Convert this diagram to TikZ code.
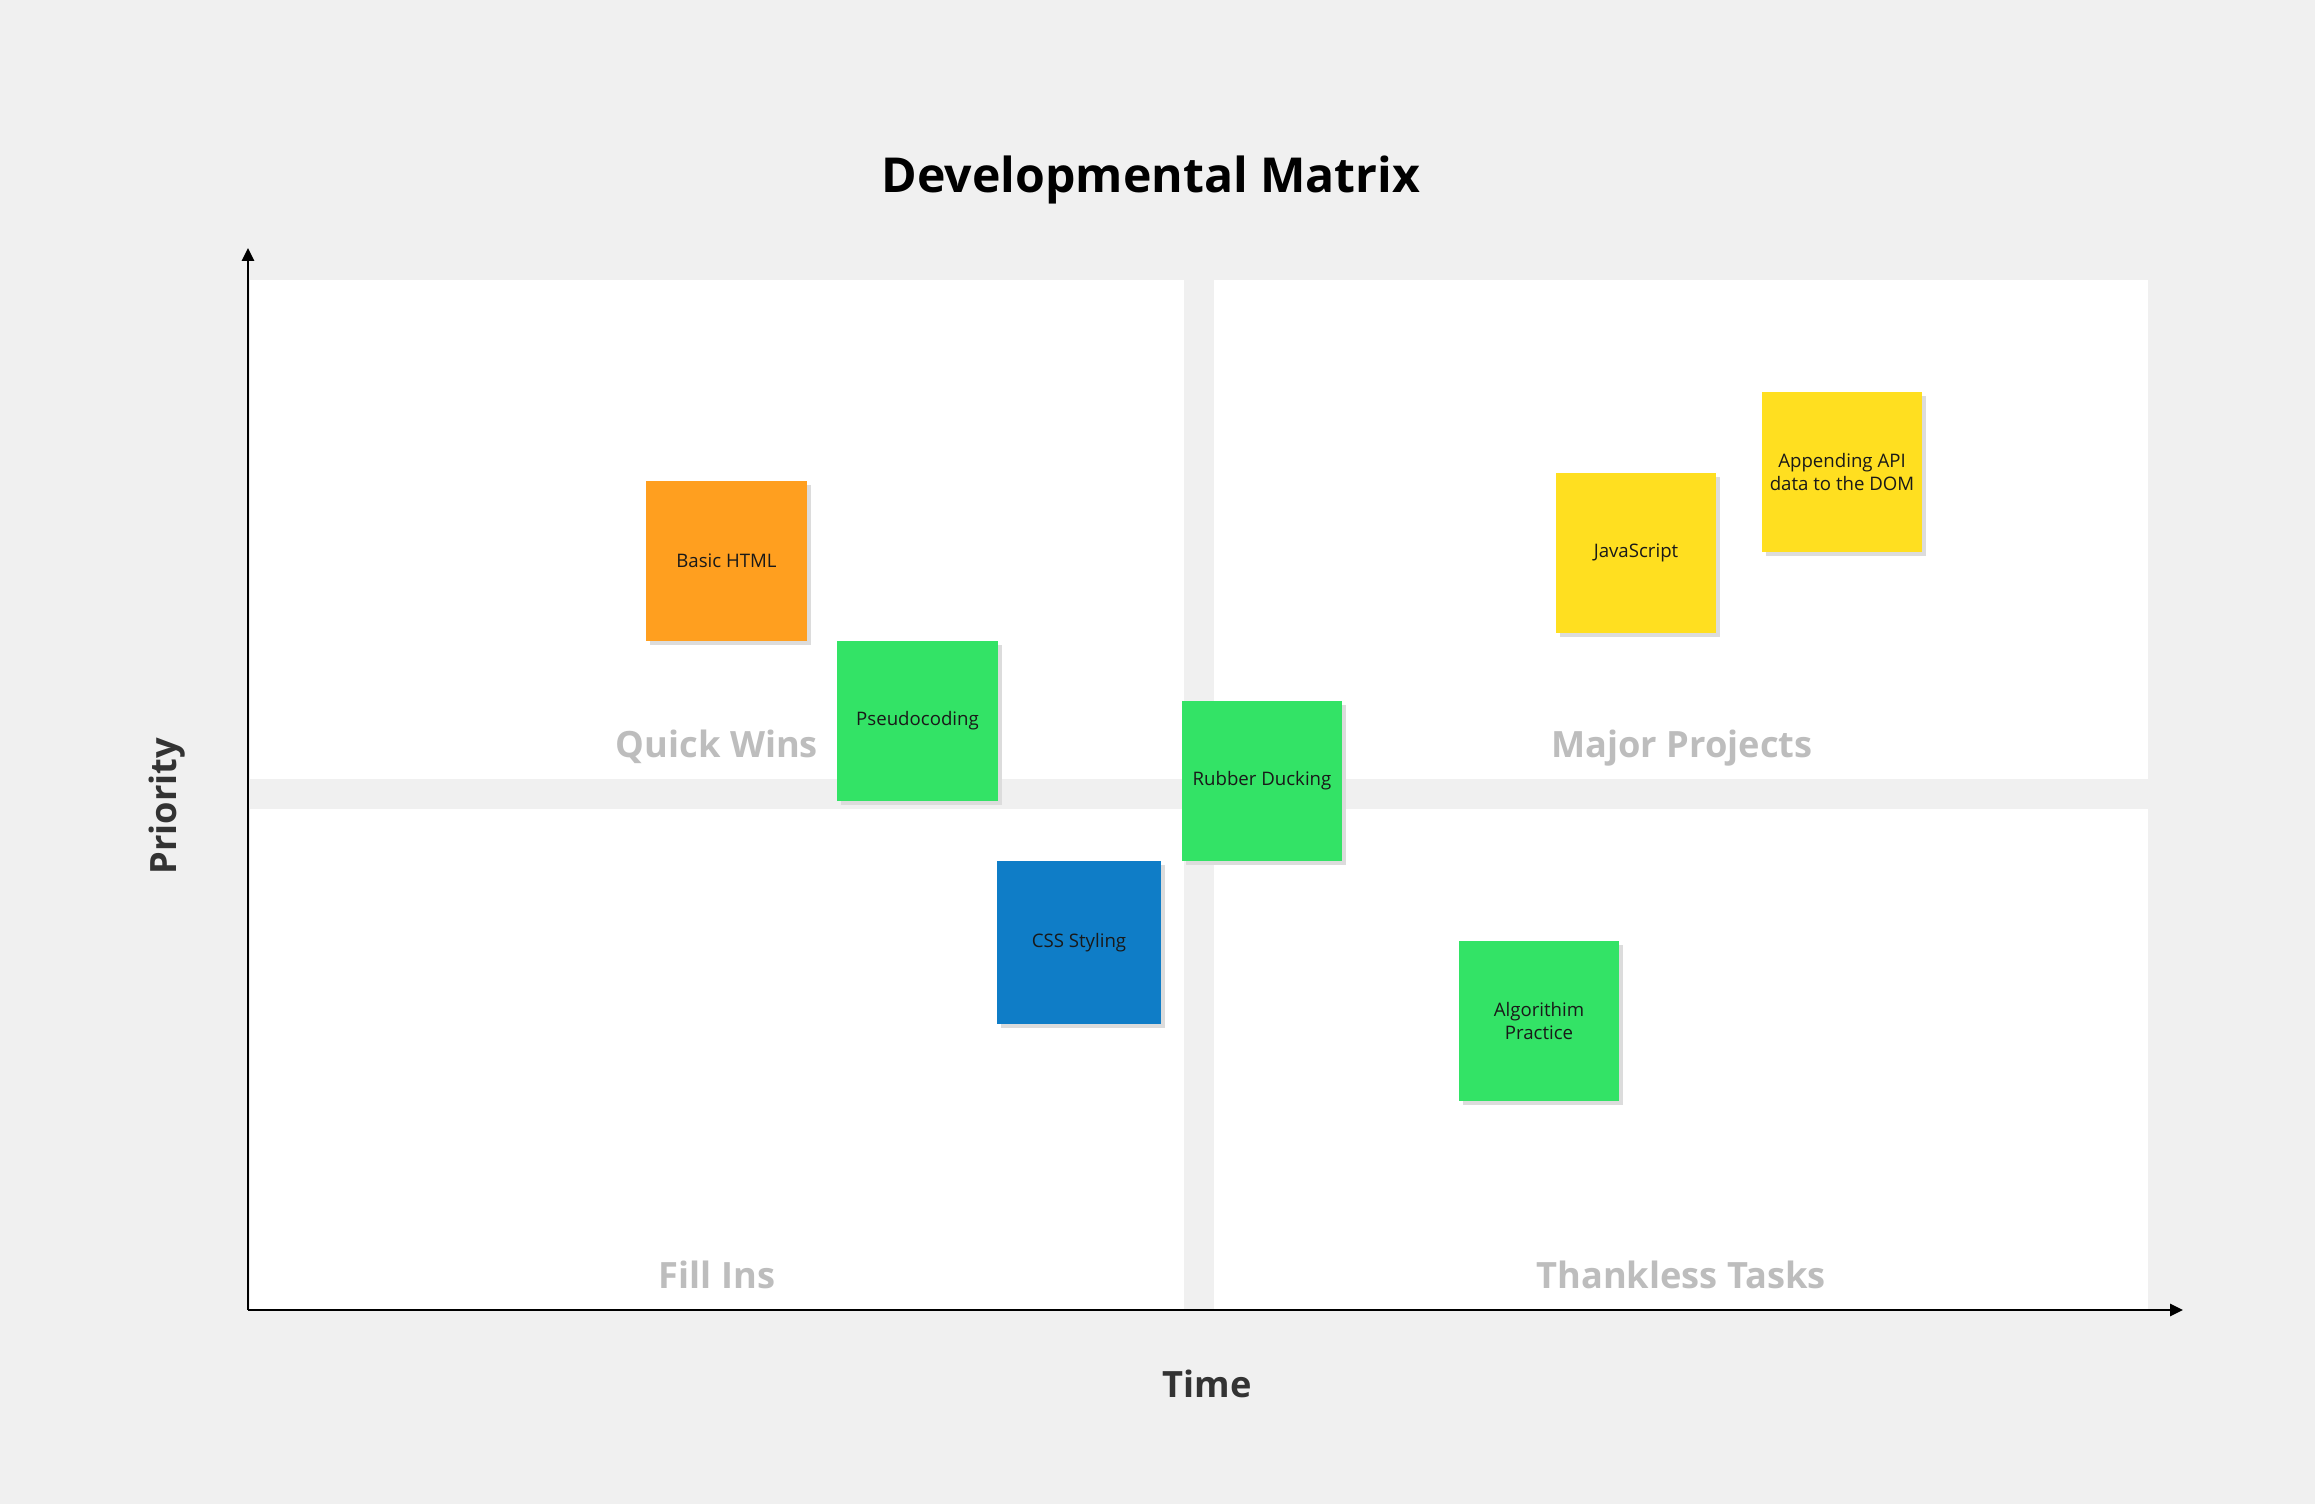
\documentclass[tikz,border=0pt]{standalone}
\usepackage{fontspec}
\setmainfont{Open Sans}
\usetikzlibrary{arrows.meta,shadows}

\definecolor{canvas}{HTML}{F0F0F0}
\definecolor{quadlabel}{HTML}{BDBDBD}
\definecolor{axislabel}{HTML}{333333}
\definecolor{noteorange}{HTML}{FF9F1F}
\definecolor{notegreen}{HTML}{33E366}
\definecolor{noteblue}{HTML}{0F7DC7}
\definecolor{noteyellow}{HTML}{FFDF20}
\definecolor{noteshadow}{HTML}{DCDCDC}

\tikzset{
  quadrant/.style={fill=white, draw=none},
  quadtitle/.style={anchor=base, text=quadlabel, inner sep=0pt,
    font=\fontsize{10.3pt}{12pt}\selectfont\bfseries},
  axistitle/.style={anchor=base, text=axislabel, inner sep=0pt,
    font=\fontsize{10.3pt}{12pt}\selectfont\bfseries},
  axisline/.style={line width=0.027cm, -{Triangle[length=0.13cm,width=0.12cm]}},
  sticky/.style={minimum width=1.6cm, minimum height=1.6cm, inner sep=0pt,
    align=center, text=black!90,
    font=\fontsize{5.3pt}{6.5pt}\selectfont,
    drop shadow={shadow xshift=0.04cm, shadow yshift=-0.04cm,
      fill=noteshadow, opacity=1}},
}

\begin{document}
\begin{tikzpicture}[x=0.01cm, y=-0.01cm]
  % canvas
  \fill[canvas] (0,0) rectangle (2315,1504);
  \useasboundingbox (0,0) rectangle (2315,1504);

  % four quadrants
  \fill[quadrant] (250,280) rectangle (1184,779);
  \fill[quadrant] (1214,280) rectangle (2148,779);
  \fill[quadrant] (250,809) rectangle (1184,1310);
  \fill[quadrant] (1214,809) rectangle (2148,1310);

  % title
  \node[anchor=base, inner sep=0pt, font=\fontsize{13.7pt}{16pt}\selectfont\bfseries]
    (title) at (1151,193) {Developmental Matrix};

  % quadrant names
  \node[quadtitle] (quick) at (717,758) {Quick Wins};
  \node[quadtitle] (major) at (1682,758) {Major Projects};
  \node[quadtitle] (fill) at (717,1288) {Fill Ins};
  \node[quadtitle] (thankless) at (1681,1288) {Thankless Tasks};

  % axes
  \coordinate (origin) at (248,1310);
  \coordinate (xend) at (2183,1310);
  \coordinate (yend) at (248,248);
  \draw[axisline] (origin) -- (xend);
  \draw[axisline] (origin) -- (yend);

  \node[axistitle] (time) at (1207,1397) {Time};
  \node[axistitle, rotate=90] (priority) at (176,806) {Priority};

  % sticky notes
  \node[sticky, fill=noteorange] (html) at (726.5,561) {Basic HTML};
  \node[sticky, fill=notegreen] (pseudo) at (917.5,721) {Pseudocoding};
  \node[sticky, fill=noteblue, minimum width=1.64cm, minimum height=1.63cm]
    (css) at (1079,942.5) {CSS Styling};
  \node[sticky, fill=notegreen] (duck) at (1262,781) {Rubber Ducking};
  \node[sticky, fill=noteyellow] (js) at (1636,553) {JavaScript};
  \node[sticky, fill=noteyellow] (api) at (1842,472) {Appending API\\data to the DOM};
  \node[sticky, fill=notegreen] (algo) at (1539,1021) {Algorithim\\Practice};
\end{tikzpicture}
\end{document}
